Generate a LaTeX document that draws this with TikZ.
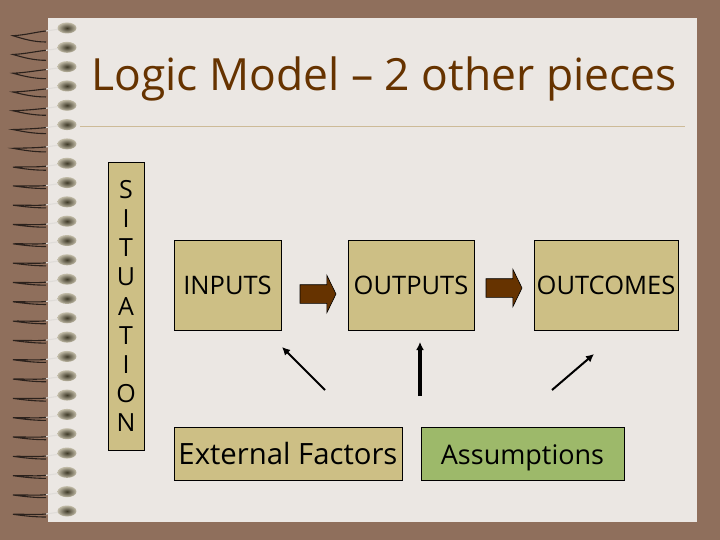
\documentclass[tikz,border=0pt]{standalone}
\usepackage{fontspec}
\setmainfont{Open Sans}
\usetikzlibrary{positioning, shapes.arrows, arrows.meta}
\definecolor{cover}{HTML}{8F6F5C}
\definecolor{paper}{HTML}{EBE7E3}
\definecolor{tan}{HTML}{CDBF85}
\definecolor{moss}{HTML}{9DB96A}
\definecolor{umber}{HTML}{663300}
\definecolor{rulecol}{HTML}{CDBB98}
\definecolor{balldark}{HTML}{3F3A28}
\definecolor{balllight}{HTML}{C2BCA8}
\tikzset{
  box/.style={rectangle, draw=black, line width=.9pt, fill=tan, inner sep=0pt, outer sep=0pt, minimum height=90pt, font=\fontsize{25.5}{30}\selectfont},
  lowbox/.style={box, minimum height=53pt, text height=21pt, text depth=0pt},
  blockarrow/.style={single arrow, draw=black, line width=.6pt, fill=umber, inner xsep=0pt, inner ysep=9pt, outer sep=0pt, minimum width=37pt, minimum height=36pt, single arrow head extend=9.5pt, single arrow tip angle=128},
  pointer/.style={draw=black, -{Latex[length=8pt, width=8pt]}}
}
\begin{document}
\begin{tikzpicture}[x=1pt, y=-1pt]
    \useasboundingbox (0,0) rectangle (720,540);
    \fill[cover] (0,0) rectangle (720,540);
    \fill[paper] (48,18) rectangle (697,522);

    % spiral binding
    \foreach \ringy [evaluate=\ringy as \ypos using 28+19.32*\ringy, evaluate=\ringy as \sprd using {max(6,14-\ringy)}] in {0,...,25} {
      \draw[line width=1.1pt, black!70!cover] (46,{\ypos+3}) .. controls (36,{\ypos+4}) and (26,{\ypos+.5*\sprd}) .. (13,{\ypos+.55*\sprd}) .. controls (24,{\ypos+.8*\sprd}) and (34,{\ypos+\sprd}) .. (46,{\ypos+\sprd});
      \draw[line width=1.1pt, black!5!paper] (60,{\ypos+1}) -- (46,{\ypos+3});
      \shade[inner color=balldark, outer color=balllight] (67,\ypos) ellipse (9.5pt and 5.5pt);
    }

    \node[anchor=base west, text=umber, inner sep=0pt, font=\fontsize{44.4}{50}\selectfont] (titel) at (91,91) {Logic Model – 2 other pieces};
    \draw[rulecol, line width=.8pt] (80,126.5) -- (685,126.5);

    \node[box, anchor=north west, minimum width=36pt, minimum height=288pt, align=center, font=\fontsize{25}{29.1}\selectfont] (situation) at (108,162) {S\\I\\T\\U\\A\\T\\I\\O\\N};

    \node[box, anchor=north west, minimum width=107pt] (inputs) at (174,240) {INPUTS};
    \node[box, right=67pt of inputs, minimum width=126pt] (outputs) {OUTPUTS};
    \node[box, right=60pt of outputs, minimum width=144pt] (outcomes) {OUTCOMES};

    \node[blockarrow, anchor=west] (arrow1) at (300,294) {};
    \node[blockarrow, anchor=west] (arrow2) at (486,288) {};

    \node[lowbox, anchor=north west, minimum width=228pt, font=\fontsize{29.3}{34}\selectfont] (factors) at (174,427) {External Factors};
    \node[lowbox, right=19pt of factors, minimum width=203pt, fill=moss, font=\fontsize{27}{32}\selectfont] (assumptions) {Assumptions};

    \coordinate (fromfactors) at (325,390);
    \coordinate (toinputs) at (282,347);
    \coordinate (frommiddle) at (420,396);
    \coordinate (tooutputs) at (420,342);
    \coordinate (fromassump) at (552,390);
    \coordinate (tooutcomes) at (594,354);

    \draw[pointer, line width=2pt] (fromfactors) -- (toinputs);
    \draw[pointer, line width=3.5pt] (frommiddle) -- (tooutputs);
    \draw[pointer, line width=2pt] (fromassump) -- (tooutcomes);
\end{tikzpicture}
\end{document}
